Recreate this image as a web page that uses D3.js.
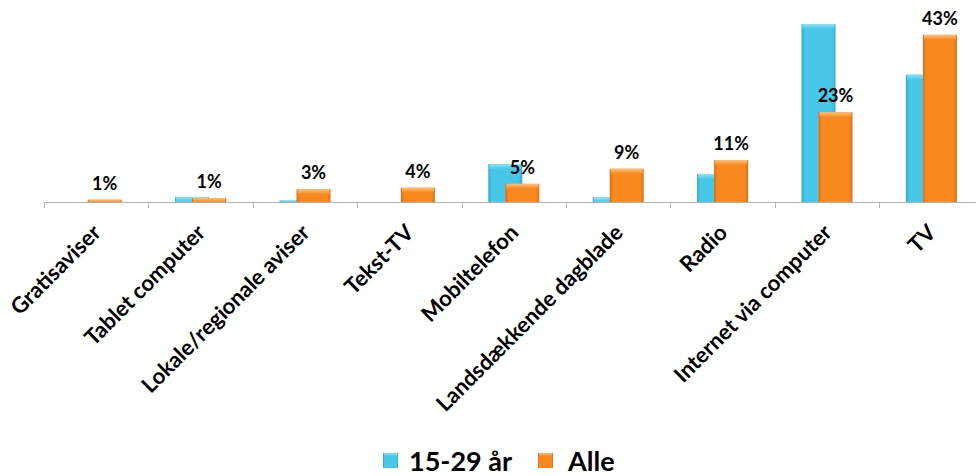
<!DOCTYPE html>
<html><head><meta charset="utf-8">
<script src="https://cdn.jsdelivr.net/npm/d3@7"></script>
<style>body{margin:0;background:#fff}svg{display:block}</style>
</head><body>
<svg id="c" width="976" height="476"></svg>
<script>
const categories = ["Gratisaviser","Tablet computer","Lokale/regionale aviser","Tekst-TV","Mobiltelefon","Landsdækkende dagblade","Radio","Internet via computer","TV"];
const seriesNames = ["15-29 år","Alle"];
const young = [0, 1.3, 0.4, 0, 9.8, 1.2, 7.2, 46.0, 32.9];
const alle = [0.6, 1.0, 3.3, 3.7, 4.7, 8.6, 10.8, 23.2, 43.2];
const alleLabels = ["1%","1%","3%","4%","5%","9%","11%","23%","43%"];

const FONT = "Lato, 'Open Sans', sans-serif";
const svg = d3.select("#c");
const defs = svg.append("defs");
function grad(id, edge, mid, light){
  const g = defs.append("linearGradient").attr("id", id).attr("x1",0).attr("x2",1).attr("y1",0).attr("y2",0);
  g.append("stop").attr("offset","0%").attr("stop-color",edge);
  g.append("stop").attr("offset","10%").attr("stop-color",mid);
  g.append("stop").attr("offset","90%").attr("stop-color",mid);
  g.append("stop").attr("offset","100%").attr("stop-color",edge);
  const t = defs.append("linearGradient").attr("id", id+"t").attr("x1",0).attr("x2",0).attr("y1",0).attr("y2",1);
  t.append("stop").attr("offset","0%").attr("stop-color",light);
  t.append("stop").attr("offset","100%").attr("stop-color",mid);
}
grad("gb","#33a8c8","#48c7e9","#8fe3f7");
grad("go","#d8701a","#f8891f","#fdc27a");

const x = d3.scaleBand().domain(categories).range([44, 983.6]).padding(0);
const y = d3.scaleLinear().domain([0, 50]).range([202, 8.5]);
const bw = 34;

// axis line and ticks
svg.append("line").attr("x1",44).attr("x2",976).attr("y1",202.5).attr("y2",202.5).attr("stroke","#b3b3b3").attr("stroke-width",1);
const tickX = categories.map(c => x(c)).concat([x(categories[8]) + x.bandwidth()]);
svg.append("g").selectAll("line").data(tickX).join("line")
  .attr("x1", d => Math.round(d)+0.5).attr("x2", d => Math.round(d)+0.5)
  .attr("y1",202).attr("y2",208).attr("stroke","#b3b3b3");

function drawBars(vals, xoff, gid){
  const g = svg.append("g");
  vals.forEach((v,i)=>{
    if (v <= 0) return;
    const cx = x(categories[i]) + x.bandwidth()/2;
    const x0 = cx + xoff, top = y(v), h = y(0) - y(v);
    g.append("rect").attr("x",x0).attr("y",top).attr("width",bw).attr("height",h).attr("fill",`url(#${gid})`);
    const th = Math.min(5, h);
    g.append("rect").attr("x",x0+1).attr("y",top).attr("width",bw-2).attr("height",th).attr("fill",`url(#${gid}t)`);
  });
}
drawBars(young, -25.5, "gb");
drawBars(alle, -8.5, "go");

// value labels
svg.append("g").selectAll("text").data(alle).join("text")
  .attr("x",(d,i)=> x(categories[i]) + x.bandwidth()/2 + 8.5)
  .attr("y", d => y(d) - 10)
  .attr("text-anchor","middle")
  .attr("font-family",FONT).attr("font-weight","bold").attr("font-size",18)
  .attr("fill","#000").text((d,i)=>alleLabels[i]);

// category labels
svg.append("g").selectAll("text").data(categories).join("text")
  .attr("transform", d => `translate(${x(d)+x.bandwidth()/2+6},${234}) rotate(-45)`)
  .attr("text-anchor","end")
  .attr("font-family",FONT).attr("font-weight","bold").attr("font-size",22)
  .attr("fill","#000").text(d=>d);

// legend
const lg = svg.append("g");
const items = [{name:seriesNames[0], g:"gb", x:383, tx:409},{name:seriesNames[1], g:"go", x:538, tx:568}];
items.forEach(it=>{
  lg.append("rect").attr("x",it.x).attr("y",453).attr("width",15).attr("height",15).attr("fill",`url(#${it.g})`);
  lg.append("rect").attr("x",it.x+1).attr("y",453).attr("width",13).attr("height",3).attr("fill",`url(#${it.g}t)`);
  lg.append("text").attr("x",it.tx).attr("y",471).attr("font-family",FONT).attr("font-weight","bold").attr("font-size",27).attr("fill","#000").text(it.name);
});
</script>
</body></html>
